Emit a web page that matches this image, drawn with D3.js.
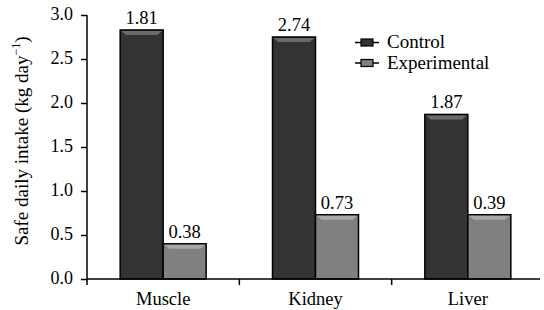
<!DOCTYPE html>
<html><head><meta charset="utf-8">
<script src="https://cdn.jsdelivr.net/npm/d3@7"></script>
<style>body{margin:0;background:#fff}svg{display:block}</style>
</head><body><svg id="c" width="544" height="310"></svg>
<script>
const categories = ["Muscle", "Kidney", "Liver"];
const seriesNames = ["Control", "Experimental"];
const controlValues = [2.83, 2.75, 1.87];
const experimentalValues = [0.40, 0.73, 0.73];
const controlLabels = ["1.81", "2.74", "1.87"];
const experimentalLabels = ["0.38", "0.73", "0.39"];
const yTicks = [0.0, 0.5, 1.0, 1.5, 2.0, 2.5, 3.0];
const colors = ["#333333", "#808080"];
const bevel = ["#6a6a6a", "#a8a8a8"];
const FONT = "'Liberation Serif', Tinos, 'Times New Roman', serif";

const svg = d3.select("#c");
const x0 = 87, x1 = 544, yTop = 15, yBot = 279;
const x = d3.scaleBand().domain(categories).range([x0, x1]);
const y = d3.scaleLinear().domain([0, 3]).range([yBot, yTop]);
const xs = d3.scaleBand().domain(seriesNames).range([-43, 43]).paddingInner(0);

const series = [
  {name: seriesNames[0], values: controlValues, labels: controlLabels},
  {name: seriesNames[1], values: experimentalValues, labels: experimentalLabels}
];

series.forEach((s, si) => {
  const g = svg.append("g");
  categories.forEach((c, i) => {
    const cx = x(c) + x.bandwidth() / 2;
    const bx = cx + xs(s.name);
    const bw = xs.bandwidth();
    const by = y(s.values[i]);
    const bh = yBot - by;
    g.append("rect").attr("x", bx).attr("y", by).attr("width", bw).attr("height", bh)
      .attr("fill", colors[si]).attr("stroke", "#000").attr("stroke-width", 1.5);
    g.append("path").attr("d", `M${bx+1},${by+1} L${bx+bw-1},${by+1} L${bx+bw-6},${by+5} L${bx+6},${by+5} Z`)
      .attr("fill", bevel[si]);
    g.append("text").attr("x", bx + bw / 2).attr("y", by - 6).attr("text-anchor", "middle")
      .style("font-family", FONT).style("font-size", "18.5px").attr("fill", "#000").text(s.labels[i]);
  });
});

const yAxis = d3.axisLeft(y).tickValues(yTicks).tickFormat(d3.format(".1f")).tickSize(6).tickPadding(8);
const ya = svg.append("g").attr("transform", `translate(${x0},0)`).call(yAxis);
ya.select(".domain").remove();
ya.selectAll(".tick line").attr("stroke", "#000").attr("stroke-width", 1.5);
ya.selectAll("text").style("font-family", FONT).style("font-size", "18px").attr("fill", "#000").attr("dy", "0.25em");
svg.append("line").attr("x1", x0).attr("x2", x0).attr("y1", yTop).attr("y2", yBot + 6)
  .attr("stroke", "#000").attr("stroke-width", 1.5);

const xa = svg.append("g").attr("transform", `translate(0,${yBot})`).call(d3.axisBottom(x).tickSize(0));
xa.select(".domain").remove();
xa.selectAll("text").style("font-family", FONT).style("font-size", "18.5px").attr("fill", "#000").attr("y", 26).attr("dy", 0);
svg.append("line").attr("x1", x0).attr("x2", 540).attr("y1", yBot).attr("y2", yBot)
  .attr("stroke", "#000").attr("stroke-width", 1.5);
categories.slice(1).forEach(c => {
  svg.append("line").attr("x1", x(c)).attr("x2", x(c)).attr("y1", yBot).attr("y2", yBot + 6)
    .attr("stroke", "#000").attr("stroke-width", 1.5);
});

const t = svg.append("text").attr("transform", `translate(28,141) rotate(-90)`)
  .attr("text-anchor", "middle").style("font-family", FONT).style("font-size", "19px").attr("fill", "#000");
t.append("tspan").text("Safe daily intake (kg day");
t.append("tspan").style("font-size", "12px").attr("dy", -8).text("\u22121");
t.append("tspan").attr("dy", 8).text(")");

series.forEach((s, si) => {
  const ly = 42.5 + si * 20.5;
  const lg = svg.append("g");
  lg.append("line").attr("x1", 355).attr("x2", 379).attr("y1", ly).attr("y2", ly)
    .attr("stroke", "#000").attr("stroke-width", 1.5);
  lg.append("rect").attr("x", 361).attr("y", ly - 3.5).attr("width", 12).attr("height", 7)
    .attr("fill", colors[si]).attr("stroke", "#000").attr("stroke-width", 1.2);
  lg.append("text").attr("x", 387).attr("y", ly + 5.5).style("font-family", FONT).style("font-size", "19px")
    .attr("fill", "#000").text(s.name);
});
</script></body></html>
